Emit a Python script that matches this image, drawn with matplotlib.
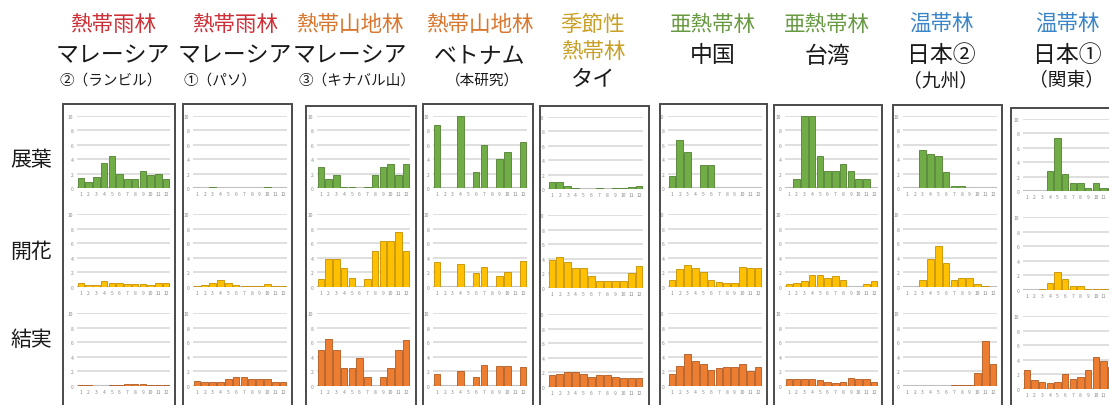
import numpy as np
import matplotlib
matplotlib.use('Agg')
import matplotlib.pyplot as plt
from matplotlib.patches import Rectangle

plt.rcParams['font.family'] = ['Noto Sans CJK JP', 'DejaVu Sans']

# ---------------- data ----------------
months = list(range(1, 13))
month_labels = [str(m) for m in months]
y_ticks = [0, 2, 4, 6, 8, 10]
phases = ['展葉', '開花', '結実']

forest_types = ['熱帯雨林', '熱帯雨林', '熱帯山地林', '熱帯山地林', '季節性\n熱帯林',
                '亜熱帯林', '亜熱帯林', '温帯林', '温帯林']
sites = ['マレーシア', 'マレーシア', 'マレーシア', 'ベトナム', 'タイ',
         '中国', '台湾', '日本②', '日本①']
site_notes = ['②（ランビル）', '①（パソ）', '③（キナバル山）', '（本研究）', '',
              '', '', '（九州）', '（関東）']

# leaf flushing (展葉)
leaf_lambir = [1.4, 0.9, 1.5, 3.5, 4.5, 1.9, 1.2, 1.3, 2.4, 1.8, 1.9, 1.2]
leaf_pasoh = [0.05, 0.05, 0.1, 0.05, 0.05, 0.05, 0.05, 0.05, 0.05, 0.1, 0.05, 0.05]
leaf_kinabalu = [2.9, 1.3, 1.8, 0.2, 0.1, 0, 0.2, 1.8, 2.9, 3.4, 1.8, 3.4]
leaf_vietnam = [8.8, 0, 0, 10, 0, 2.2, 6.0, 0, 4.0, 5.0, 0, 6.4]
leaf_thai = [1.0, 1.0, 0.4, 0.1, 0.04, 0, 0.2, 0.04, 0.2, 0.2, 0.3, 0.4]
leaf_china = [1.6, 6.6, 5.0, 0, 3.2, 3.2, 0, 0, 0, 0, 0, 0]
leaf_taiwan = [0, 1.2, 10, 10, 4.4, 2.3, 2.3, 3.3, 2.3, 1.2, 1.2, 0]
leaf_kyushu = [0, 0, 5.3, 4.7, 4.4, 2.2, 0.3, 0.3, 0, 0, 0, 0]
leaf_kanto = [0, 0, 0, 2.8, 7.3, 2.3, 1.1, 1.1, 0.4, 1.1, 0.4, 0.4]

# flowering (開花)
flower_lambir = [0.5, 0.3, 0.3, 0.8, 0.6, 0.5, 0.4, 0.4, 0.4, 0.3, 0.5, 0.5]
flower_pasoh = [0.2, 0.3, 0.5, 0.9, 0.6, 0.3, 0.2, 0.2, 0.2, 0.4, 0.2, 0.2]
flower_kinabalu = [1.1, 3.8, 3.8, 2.6, 1.2, 0, 1.1, 5.0, 6.3, 6.3, 7.6, 5.0]
flower_vietnam = [3.4, 0, 0, 3.2, 0, 1.9, 2.7, 0, 1.5, 2.1, 0, 3.6]
flower_thai = [3.9, 4.3, 3.5, 2.8, 2.8, 1.6, 0.9, 0.9, 0.9, 0.9, 2.0, 3.0]
flower_china = [1.0, 2.4, 3.0, 2.6, 2.1, 1.0, 0.7, 0.5, 0.5, 2.8, 2.6, 2.6]
flower_taiwan = [0.4, 0.5, 0.8, 1.7, 1.7, 1.3, 1.5, 0.9, 0, 0, 0.4, 0.8]
flower_kyushu = [0, 0, 1.0, 3.8, 5.6, 3.3, 1.0, 1.3, 1.3, 0.4, 0.1, 0]
flower_kanto = [0, 0, 0.2, 0.9, 2.5, 1.5, 0.5, 0.5, 0.2, 0.2, 0.1, 0.1]

# fruiting (結実)
fruit_lambir = [0.1, 0.1, 0.05, 0.05, 0.1, 0.2, 0.3, 0.3, 0.3, 0.2, 0.2, 0.2]
fruit_pasoh = [0.7, 0.5, 0.5, 0.5, 0.9, 1.3, 1.2, 0.9, 0.9, 0.9, 0.5, 0.6]
fruit_kinabalu = [5.0, 6.4, 5.0, 2.5, 2.5, 3.9, 1.2, 0, 1.2, 2.5, 5.0, 6.3]
fruit_vietnam = [1.7, 0, 0, 2.1, 0, 1.2, 2.9, 0, 2.8, 2.7, 0, 2.6]
fruit_thai = [1.6, 1.8, 2.0, 2.0, 1.8, 1.4, 1.6, 1.6, 1.4, 1.2, 1.2, 1.2]
fruit_china = [1.6, 2.8, 4.4, 3.4, 3.0, 2.2, 2.4, 2.6, 2.6, 3.0, 2.0, 2.6]
fruit_taiwan = [1.0, 1.0, 1.0, 1.0, 0.8, 0.6, 0.4, 0.6, 1.1, 1.0, 0.9, 0.6]
fruit_kyushu = [0, 0, 0, 0, 0, 0, 0.1, 0.1, 0.2, 1.8, 6.2, 3.0]
fruit_kanto = [2.6, 1.2, 1.0, 0.8, 1.0, 2.0, 1.4, 1.6, 2.6, 4.4, 3.8, 3.0]

leaf = [leaf_lambir, leaf_pasoh, leaf_kinabalu, leaf_vietnam, leaf_thai,
        leaf_china, leaf_taiwan, leaf_kyushu, leaf_kanto]
flower = [flower_lambir, flower_pasoh, flower_kinabalu, flower_vietnam, flower_thai,
          flower_china, flower_taiwan, flower_kyushu, flower_kanto]
fruit = [fruit_lambir, fruit_pasoh, fruit_kinabalu, fruit_vietnam, fruit_thai,
         fruit_china, fruit_taiwan, fruit_kyushu, fruit_kanto]
series = [leaf, flower, fruit]

# ---------------- styles / layout ----------------
type_colors = {'熱帯雨林': '#cf2f36', '熱帯山地林': '#d9772f', '季節性\n熱帯林': '#c9a025',
               '亜熱帯林': '#689a43', '温帯林': '#3a86c8'}
bar_face = ['#70ad47', '#ffc000', '#ed7d31']
bar_edge = ['#4f8030', '#c49000', '#b05a20']

W, H = 1109, 406
fig = plt.figure(figsize=(W / 100, H / 100), dpi=100)
fig.patch.set_facecolor('white')

def fx(x):
    return x / W

def fy(y):
    return 1 - y / H

box_l = [63, 183, 306, 423, 540, 660, 774, 893, 1011]
box_r = [175, 292, 416, 533, 649, 767, 882, 1002, 1125]
box_t = [105, 105, 107, 105, 107, 105, 106, 106, 109]
plot_l = [77, 193, 317, 433, 548, 668, 785, 903, 1023]
plot_r = [170, 287, 410, 527, 643, 762, 878, 997, 1115]
col_dy = [0, 0, 0, 0, 1, 0, 0, 0, 3]
row_top = [117, 215, 314]
row_base = [189, 288, 387]

header_x = [113, 235, 350, 480, 593, 713, 827, 941, 1067]
note_x = [111, 220, 357, 482, 593, 713, 827, 941, 1067]

for i in range(9):
    # outer box
    rect = Rectangle((fx(box_l[i]), fy(H + 10)), fx(box_r[i] - box_l[i]),
                     (H + 10 - box_t[i]) / H, transform=fig.transFigure,
                     facecolor='none', edgecolor='#4a4a4a', linewidth=1.4,
                     clip_on=False)
    fig.add_artist(rect)

    for r in range(3):
        top = row_top[r] + col_dy[i]
        base = row_base[r] + col_dy[i]
        ax = fig.add_axes([fx(plot_l[i]), fy(base), fx(plot_r[i] - plot_l[i]),
                           (base - top) / H])
        ax.set_facecolor('none')
        ax.bar(months, series[r][i], width=0.86, color=bar_face[r],
               edgecolor=bar_edge[r], linewidth=0.6, zorder=3)
        ax.set_xlim(0.5, 12.5)
        ax.set_ylim(0, 10)
        ax.set_yticks(y_ticks)
        ax.set_yticklabels([str(t) for t in y_ticks])
        ax.set_xticks(months)
        ax.set_xticklabels(month_labels)
        ax.tick_params(labelsize=3.6, colors='#8c8c8c', length=0, pad=2.5)
        for s in ax.spines.values():
            s.set_visible(False)
        ax.yaxis.grid(True, color='#d9d9d9', linewidth=1.2, zorder=0)
        ax.axhline(0, color='#bfbfbf', linewidth=1.5, zorder=2)
        ax.set_axisbelow(True)

    # headers
    col = type_colors[forest_types[i]]
    tlines = forest_types[i].split('\n')
    y = 25
    for t in tlines:
        fig.text(fx(header_x[i]), fy(y), t, color=col, fontsize=15.5,
                 ha='center', va='center')
        y += 27
    if len(tlines) == 1:
        fig.text(fx(header_x[i]), fy(56), sites[i], color='#1a1a1a',
                 fontsize=16.5, ha='center', va='center')
    else:
        fig.text(fx(header_x[i]), fy(80), sites[i], color='#1a1a1a',
                 fontsize=16, ha='center', va='center')
    if site_notes[i]:
        big = i >= 7
        fig.text(fx(note_x[i]), fy(81), site_notes[i], color='#1a1a1a',
                 fontsize=13.5 if big else 10.5, ha='center', va='center')

row_label_y = [160, 252, 340]
for r in range(3):
    fig.text(fx(31), fy(row_label_y[r]), phases[r], color='#1a1a1a',
             fontsize=15, ha='center', va='center')

fig.savefig('out.png', dpi=100, facecolor='white')
